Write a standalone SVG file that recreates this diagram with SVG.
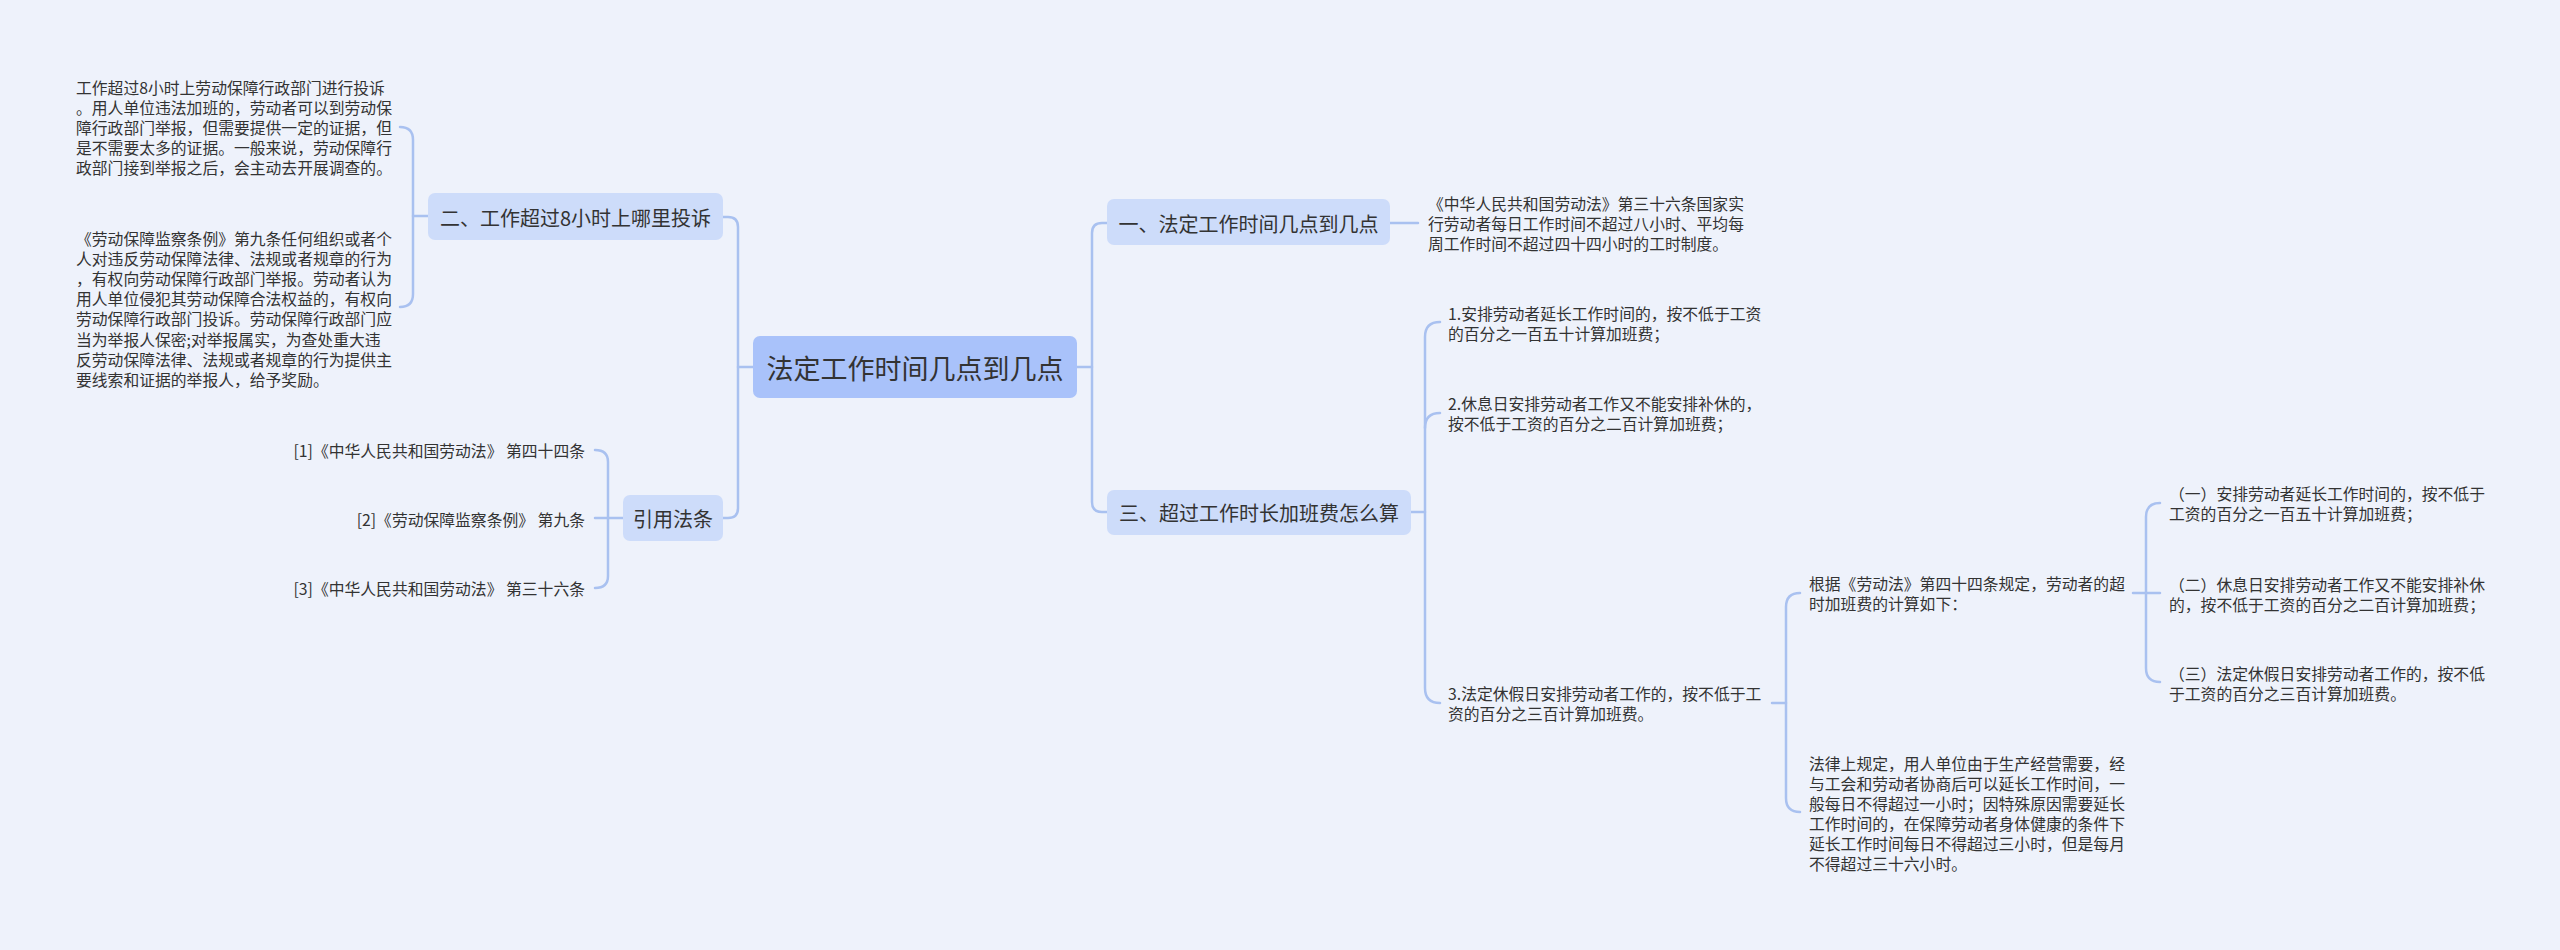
<svg xmlns="http://www.w3.org/2000/svg" width="2560" height="950" viewBox="0 0 2560 950">
<style>
text{font-family:"Noto Sans CJK SC","Noto Sans",sans-serif;fill:#333;dominant-baseline:central}
.root{font-size:27px}
.l1{font-size:20px}
.leaf{font-size:15.8px}
.rootbox{fill:#a9c2fa}
.l1box{fill:#cddcfa}
.conn path{fill:none;stroke:#a9c1f0;stroke-width:2.5;stroke-linecap:round}
</style>
<rect x="0" y="0" width="2560" height="950" fill="#eef2fb"/>
<g class="conn" id="connectors">
<path d="M753,367 L738,367"/>
<path d="M723,217 L728,217 Q738,217 738,227 L738,508 Q738,518 728,518 L723,518"/>
<path d="M428,216 L413,216"/>
<path d="M400,127 Q413,127 413,140 L413,294 Q413,307 400,307"/>
<path d="M623,518 L595,518"/>
<path d="M595,450 Q608,450 608,462 L608,576 Q608,588 595,588"/>
<path d="M1077,367 L1092,367"/>
<path d="M1107,223 L1102,223 Q1092,223 1092,233 L1092,502 Q1092,512 1102,512 L1107,512"/>
<path d="M1390,223 L1418,223"/>
<path d="M1411,512 L1425,512"/>
<path d="M1440,322 Q1425,322 1425,337 L1425,688 Q1425,703 1440,703"/>
<path d="M1425,428 Q1425,413 1440,413"/>
<path d="M1772,703 L1786,703"/>
<path d="M1800,593 Q1786,593 1786,607 L1786,798 Q1786,812 1800,812"/>
<path d="M2133,593 L2160,593"/>
<path d="M2160,503 Q2146,503 2146,517 L2146,668 Q2146,682 2160,682"/>
</g>
<g id="root">
<rect class="rootbox" x="753" y="336" width="324" height="62" rx="7"/>
<text class="root" x="915" y="367" text-anchor="middle">法定工作时间几点到几点</text>
</g>
<g id="n-complain">
<rect class="l1box" x="428" y="193" width="295" height="47" rx="7"/>
<text class="l1" x="575.5" y="217" text-anchor="middle">二、工作超过8小时上哪里投诉</text>
</g>
<g id="n-complain-a">
<text class="leaf" x="76" y="87">工作超过8小时上劳动保障行政部门进行投诉</text>
<text class="leaf" x="76" y="107.2">。用人单位违法加班的，劳动者可以到劳动保</text>
<text class="leaf" x="76" y="127.4">障行政部门举报，但需要提供一定的证据，但</text>
<text class="leaf" x="76" y="147.6">是不需要太多的证据。一般来说，劳动保障行</text>
<text class="leaf" x="76" y="167.8">政部门接到举报之后，会主动去开展调查的。</text>
</g>
<g id="n-complain-b">
<text class="leaf" x="76" y="238">《劳动保障监察条例》第九条任何组织或者个</text>
<text class="leaf" x="76" y="258.2">人对违反劳动保障法律、法规或者规章的行为</text>
<text class="leaf" x="76" y="278.4">，有权向劳动保障行政部门举报。劳动者认为</text>
<text class="leaf" x="76" y="298.6">用人单位侵犯其劳动保障合法权益的，有权向</text>
<text class="leaf" x="76" y="318.8">劳动保障行政部门投诉。劳动保障行政部门应</text>
<text class="leaf" x="76" y="339">当为举报人保密;对举报属实，为查处重大违</text>
<text class="leaf" x="76" y="359.2">反劳动保障法律、法规或者规章的行为提供主</text>
<text class="leaf" x="76" y="379.4">要线索和证据的举报人，给予奖励。</text>
</g>
<g id="n-laws">
<rect class="l1box" x="623" y="495" width="100" height="46" rx="7"/>
<text class="l1" x="673" y="518" text-anchor="middle">引用法条</text>
</g>
<g id="n-law1"><text class="leaf" x="585" y="450" text-anchor="end">[1]《中华人民共和国劳动法》 第四十四条</text></g>
<g id="n-law2"><text class="leaf" x="585" y="519" text-anchor="end">[2]《劳动保障监察条例》 第九条</text></g>
<g id="n-law3"><text class="leaf" x="585" y="588" text-anchor="end">[3]《中华人民共和国劳动法》 第三十六条</text></g>
<g id="n-hours">
<rect class="l1box" x="1107" y="199" width="283" height="46" rx="7"/>
<text class="l1" x="1248.5" y="223" text-anchor="middle">一、法定工作时间几点到几点</text>
</g>
<g id="n-hours-a">
<text class="leaf" x="1428" y="203">《中华人民共和国劳动法》第三十六条国家实</text>
<text class="leaf" x="1428" y="223">行劳动者每日工作时间不超过八小时、平均每</text>
<text class="leaf" x="1428" y="243">周工作时间不超过四十四小时的工时制度。</text>
</g>
<g id="n-overtime">
<rect class="l1box" x="1107" y="490" width="304" height="45" rx="7"/>
<text class="l1" x="1259" y="512" text-anchor="middle">三、超过工作时长加班费怎么算</text>
</g>
<g id="n-ot1">
<text class="leaf" x="1448" y="313">1.安排劳动者延长工作时间的，按不低于工资</text>
<text class="leaf" x="1448" y="333">的百分之一百五十计算加班费；</text>
</g>
<g id="n-ot2">
<text class="leaf" x="1448" y="403">2.休息日安排劳动者工作又不能安排补休的，</text>
<text class="leaf" x="1448" y="423.5">按不低于工资的百分之二百计算加班费；</text>
</g>
<g id="n-ot3">
<text class="leaf" x="1448" y="693">3.法定休假日安排劳动者工作的，按不低于工</text>
<text class="leaf" x="1448" y="713">资的百分之三百计算加班费。</text>
</g>
<g id="n-art44">
<text class="leaf" x="1809" y="583">根据《劳动法》第四十四条规定，劳动者的超</text>
<text class="leaf" x="1809" y="603">时加班费的计算如下：</text>
</g>
<g id="n-law-rule">
<text class="leaf" x="1809" y="763">法律上规定，用人单位由于生产经营需要，经</text>
<text class="leaf" x="1809" y="783">与工会和劳动者协商后可以延长工作时间，一</text>
<text class="leaf" x="1809" y="803">般每日不得超过一小时；因特殊原因需要延长</text>
<text class="leaf" x="1809" y="823">工作时间的，在保障劳动者身体健康的条件下</text>
<text class="leaf" x="1809" y="843">延长工作时间每日不得超过三小时，但是每月</text>
<text class="leaf" x="1809" y="863">不得超过三十六小时。</text>
</g>
<g id="n-a1">
<text class="leaf" x="2169" y="493">（一）安排劳动者延长工作时间的，按不低于</text>
<text class="leaf" x="2169" y="513">工资的百分之一百五十计算加班费；</text>
</g>
<g id="n-a2">
<text class="leaf" x="2169" y="584">（二）休息日安排劳动者工作又不能安排补休</text>
<text class="leaf" x="2169" y="604">的，按不低于工资的百分之二百计算加班费；</text>
</g>
<g id="n-a3">
<text class="leaf" x="2169" y="673">（三）法定休假日安排劳动者工作的，按不低</text>
<text class="leaf" x="2169" y="693">于工资的百分之三百计算加班费。</text>
</g>
</svg>
